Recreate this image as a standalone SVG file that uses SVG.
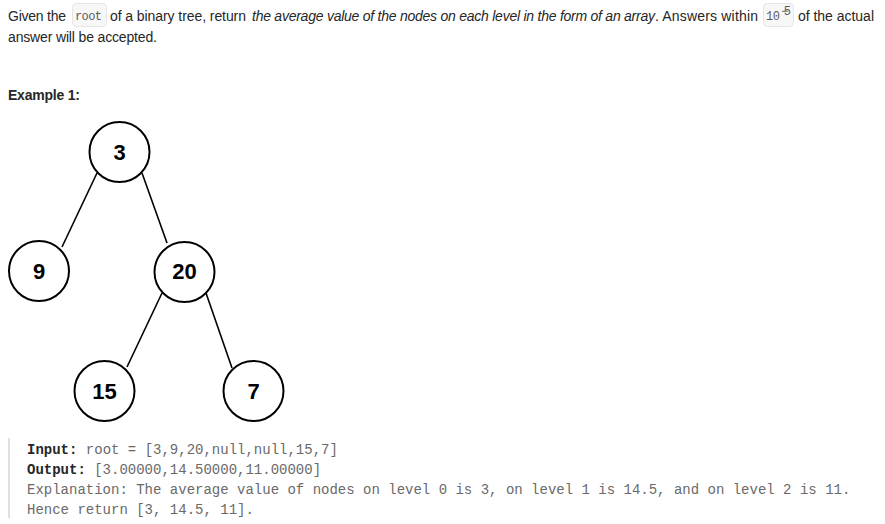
<svg xmlns="http://www.w3.org/2000/svg" width="885" height="524" viewBox="0 0 885 524">
<style>
.t{font-family:"Segoe UI","Liberation Sans","DejaVu Sans",sans-serif;font-size:14px;fill:#262626}
.it{font-style:italic}
.ic{font-family:"Liberation Mono","DejaVu Sans Mono",monospace;font-size:12px;fill:#5c5c5c}
.cb{fill:#f7f7f8;stroke:#e5e5e5;stroke-width:1}
.node circle{fill:#fff;stroke:#000;stroke-width:2}
.node text{font-family:"Liberation Sans",Arial,sans-serif;font-weight:bold;font-size:22px;fill:#000;text-anchor:middle}
.edges line{stroke:#000;stroke-width:1.6}
.code{font-family:"Liberation Mono","DejaVu Sans Mono",monospace;font-size:14px;fill:#6a6a6a}
.code .b{font-weight:bold;fill:#262626}
</style>
<rect width="885" height="524" fill="#fff"/>
<text class="t" x="8" y="21" textLength="58">Given the</text>
<rect class="cb" x="72.5" y="3.5" width="34" height="23" rx="4"/>
<text class="ic" x="75" y="20" textLength="27">root</text>
<text class="t" x="110" y="21" textLength="136">of a binary tree, return</text>
<text class="t it" x="252" y="21" textLength="403">the average value of the nodes on each level in the form of an array</text>
<text class="t" x="655" y="21" textLength="103">. Answers within</text>
<rect class="cb" x="763.5" y="3.5" width="30" height="23" rx="4"/>
<text class="ic" x="766" y="20" textLength="14">10</text>
<text class="ic" x="781" y="15" font-size="10" textLength="10">−5</text>
<text class="t" x="798" y="21" textLength="76">of the actual</text>
<text class="t" x="8" y="42" textLength="149">answer will be accepted.</text>
<text class="t" x="8" y="100" font-weight="bold" textLength="72">Example 1:</text>
<g class="edges">
<line x1="97" y1="173" x2="62" y2="247"/>
<line x1="142" y1="173" x2="167" y2="243"/>
<line x1="162" y1="293" x2="127" y2="367"/>
<line x1="206" y1="293" x2="232" y2="368"/>
</g>
<g class="node" id="n3"><circle cx="119.5" cy="152" r="30"/><text x="119.5" y="160">3</text></g>
<g class="node" id="n9"><circle cx="39" cy="271" r="30"/><text x="39" y="279">9</text></g>
<g class="node" id="n20"><circle cx="184.5" cy="272" r="30"/><text x="184.5" y="279">20</text></g>
<g class="node" id="n15"><circle cx="104.5" cy="391" r="30"/><text x="104.5" y="399">15</text></g>
<g class="node" id="n7"><circle cx="253.5" cy="391" r="30"/><text x="253.5" y="399">7</text></g>
<rect x="8" y="438" width="2" height="80" fill="#e0e0e0"/>
<g class="code">
<text x="27" y="454"><tspan class="b">Input:</tspan> root = [3,9,20,null,null,15,7]</text>
<text x="27" y="474"><tspan class="b">Output:</tspan> [3.00000,14.50000,11.00000]</text>
<text x="27" y="494">Explanation: The average value of nodes on level 0 is 3, on level 1 is 14.5, and on level 2 is 11.</text>
<text x="27" y="514">Hence return [3, 14.5, 11].</text>
</g>
</svg>
